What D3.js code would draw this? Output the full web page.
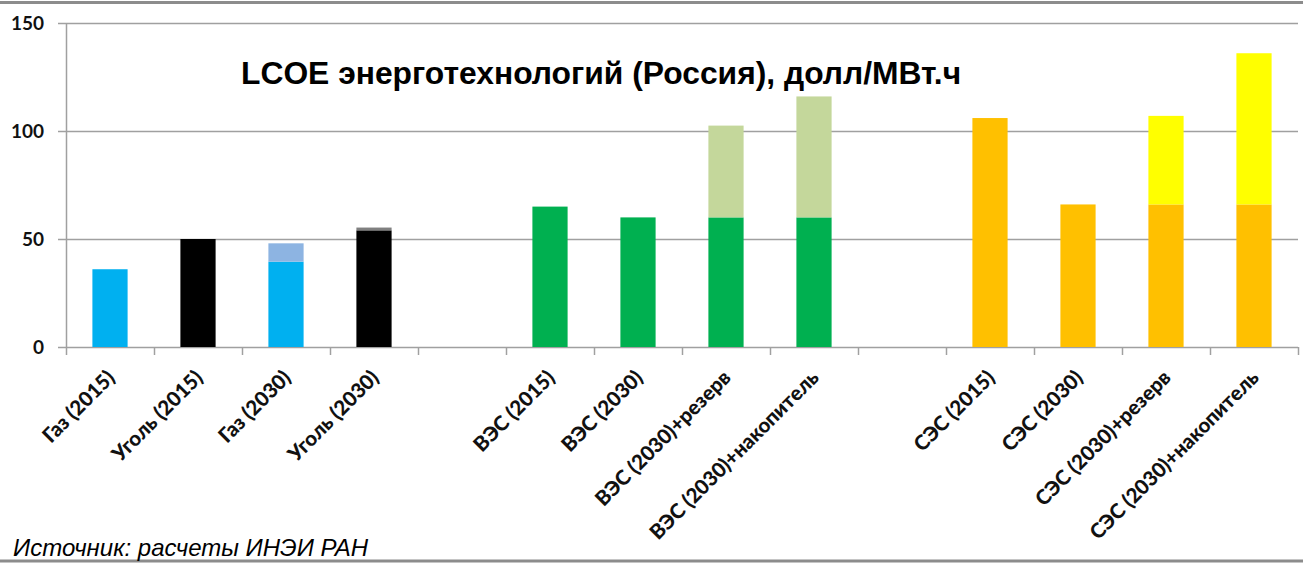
<!DOCTYPE html>
<html>
<head>
<meta charset="utf-8">
<script src="https://cdn.jsdelivr.net/npm/d3@7/dist/d3.min.js"></script>
<style>
  html, body { margin: 0; padding: 0; background: #fff; }
  svg { display: block; }
</style>
</head>
<body>
<svg id="chart" width="1303" height="563"></svg>
<script>
// Categories along the x axis (blank entries are spacer slots between groups)
const categories = [
  "Газ (2015)", "Уголь (2015)", "Газ (2030)", "Уголь (2030)", "",
  "ВЭС (2015)", "ВЭС (2030)", "ВЭС (2030)+резерв", "ВЭС (2030)+накопитель", " ",
  "СЭС (2015)", "СЭС (2030)", "СЭС (2030)+резерв", "СЭС (2030)+накопитель"
];
// Base LCOE, долл/МВт.ч
const baseValues = [36, 50, 39.5, 54, null, 65, 60, 60, 60, null, 106, 66, 66, 66];
// Additional component stacked on top (reserve, storage, etc.)
const addValues  = [0, 0, 8.5, 1.3, null, 0, 0, 42.5, 56, null, 0, 0, 41, 70];
// Colours of base and added parts per category
const baseColors = ["#00B0F0", "#000000", "#00B0F0", "#000000", null,
  "#00B050", "#00B050", "#00B050", "#00B050", null,
  "#FFC000", "#FFC000", "#FFC000", "#FFC000"];
const addColors  = [null, null, "#8DB4E2", "#808080", null,
  null, null, "#C4D79B", "#C4D79B", null,
  null, null, "#FFFF00", "#FFFF00"];
const yTicks = [0, 50, 100, 150];

const titleText = "LCOE энерготехнологий (Россия), долл/МВт.ч";
const sourceText = "Источник: расчеты ИНЭИ РАН";

const svg = d3.select("#chart");
const W = 1303, H = 563;
const m = { left: 66, right: 5, top: 23, bottom: 216 };

const x = d3.scaleBand()
  .domain(categories)
  .range([m.left, W - m.right])
  .paddingInner(0.6)
  .paddingOuter(0.3);
// slot band (no padding) for category separator ticks
const xSlots = d3.scaleBand().domain(categories).range([m.left, W - m.right]);

const y = d3.scaleLinear().domain([0, 150]).range([H - m.bottom, m.top]);

// frame lines
svg.append("line").attr("x1", 0).attr("x2", W).attr("y1", 2.5).attr("y2", 2.5)
  .attr("stroke", "#8c8c8c").attr("stroke-width", 3);
svg.append("line").attr("x1", 0).attr("x2", W).attr("y1", 561).attr("y2", 561)
  .attr("stroke", "#8c8c8c").attr("stroke-width", 3);

// horizontal gridlines with left tick stubs
const grid = svg.append("g");
grid.selectAll("line").data(yTicks).join("line")
  .attr("x1", m.left - 8).attr("x2", W - m.right)
  .attr("y1", d => Math.round(y(d)) + 0.5).attr("y2", d => Math.round(y(d)) + 0.5)
  .attr("stroke", "#a0a0a0").attr("stroke-width", 1.5);

// y axis line
svg.append("line")
  .attr("x1", m.left + 0.5).attr("x2", m.left + 0.5)
  .attr("y1", y(150)).attr("y2", y(0) + 8)
  .attr("stroke", "#a0a0a0").attr("stroke-width", 1.5);

// category separator ticks
svg.append("g").selectAll("line").data(categories).join("line")
  .attr("x1", d => Math.round(xSlots(d) + xSlots.bandwidth()) + 0.5)
  .attr("x2", d => Math.round(xSlots(d) + xSlots.bandwidth()) + 0.5)
  .attr("y1", y(0)).attr("y2", y(0) + 8)
  .attr("stroke", "#a0a0a0").attr("stroke-width", 1.5);

// y tick labels
svg.append("g").selectAll("text").data(yTicks).join("text")
  .attr("x", 44).attr("y", d => y(d) + 7)
  .attr("text-anchor", "end")
  .attr("font-family", "Lato, 'Open Sans', sans-serif")
  .attr("font-weight", "bold").attr("font-size", 19)
  .attr("fill", "#111")
  .text(d => d);

// bars
const bars = svg.append("g");
categories.forEach((c, i) => {
  if (baseValues[i] == null) return;
  bars.append("rect")
    .attr("x", x(c)).attr("width", x.bandwidth())
    .attr("y", y(baseValues[i])).attr("height", y(0) - y(baseValues[i]))
    .attr("fill", baseColors[i]);
  if (addValues[i] > 0) {
    const top = baseValues[i] + addValues[i];
    bars.append("rect")
      .attr("x", x(c)).attr("width", x.bandwidth())
      .attr("y", y(top)).attr("height", y(baseValues[i]) - y(top))
      .attr("fill", addColors[i]);
  }
});

// rotated category labels
svg.append("g").selectAll("text").data(categories.filter(c => c.trim() !== "")).join("text")
  .attr("transform", d => `translate(${x(d) + x.bandwidth() / 2 + 6},${y(0) + 32}) rotate(-45)`)
  .attr("text-anchor", "end")
  .attr("font-family", "Lato, 'Open Sans', sans-serif")
  .attr("font-weight", 900).attr("font-size", 20.5)
  .attr("fill", "#111")
  .text(d => d);

// title
svg.append("text")
  .attr("x", 241).attr("y", 84)
  .attr("font-family", "'Liberation Sans', Arial, sans-serif")
  .attr("font-weight", "bold").attr("font-size", 31.8)
  .attr("fill", "#000")
  .text(titleText);

// source note
svg.append("text")
  .attr("x", 13).attr("y", 556)
  .attr("font-family", "'Liberation Sans', Arial, sans-serif")
  .attr("font-style", "italic").attr("font-size", 24)
  .attr("fill", "#000")
  .text(sourceText);
</script>
</body>
</html>
